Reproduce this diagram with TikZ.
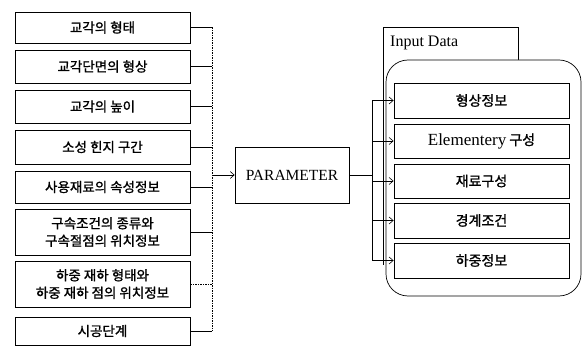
\documentclass[tikz,border=0pt]{standalone}
\usepackage{fontspec}
\setmainfont{Liberation Serif}
\newfontfamily\kr{Noto Sans CJK KR}[FakeBold=1.2]
\usetikzlibrary{arrows.meta}
\begin{document}
\begin{tikzpicture}[x=1pt,y=-1pt,
  lbox/.style={draw, line width=0.7pt, minimum width=175pt, inner sep=0pt, align=center,
    font=\kr\fontsize{13.5}{17.5}\selectfont},
  rbox/.style={draw, line width=0.9pt, minimum width=175pt, minimum height=35pt, inner sep=0pt, align=center,
    font=\kr\fontsize{14}{17}\selectfont},
  conn/.style={line width=0.6pt},
  bus/.style={line width=0.6pt, dash pattern=on 1.5pt off 1pt},
  arr/.style={line width=0.6pt, -{Straight Barb[length=4pt,width=7pt]}}
]
\useasboundingbox (0,0) rectangle (586,347);

% left boxes
\node[lbox, minimum height=31pt] (b1) at (102.5,27.5) {교각의 형태};
\node[lbox, minimum height=33pt] (b2) at (102.5,66.5) {교각단면의 형상};
\node[lbox, minimum height=33pt] (b3) at (102.5,106.5) {교각의 높이};
\node[lbox, minimum height=34pt] (b4) at (102.5,147) {소성 힌지 구간};
\node[lbox, minimum height=32pt] (b5) at (102.5,187) {사용재료의 속성정보};
\node[lbox, minimum height=46pt] (b6) at (102.5,232) {구속조건의 종류와\\구속절점의 위치정보};
\node[lbox, minimum height=46pt] (b7) at (102.5,284) {하중 재하 형태와\\하중 재하 점의 위치정보};
\node[lbox, minimum height=28pt] (b8) at (102.5,331) {시공단계};

\coordinate (lbT) at (212,27.5);
\coordinate (lbB) at (212,331);
\draw[bus] (lbT) -- (lbB);
\foreach \b in {b1,b2,b3,b4,b5,b6,b8}
  \draw[conn] (\b.east) -- (\b.east -| lbT);
\draw[bus] (b7.east) -- (b7.east -| lbT);

% parameter
\node[draw, line width=0.7pt, minimum width=114pt, minimum height=56pt, inner sep=0pt,
  font=\fontsize{15.5}{18}\selectfont] (par) at (292,175) {PARAMETER};
\draw[arr] (lbT |- par.west) -- (par.west);

% input data frame
\draw[line width=0.7pt] (383,265) -- (383,27) -- (518,27) -- (518,62);
\node[anchor=west, inner sep=0pt, font=\fontsize{16}{18}\selectfont] (idl) at (390,43) {Input Data};
\draw[line width=0.7pt, fill=white, rounded corners=22pt] (386,60) rectangle (581,296);

% right boxes
\node[rbox] (r1) at (481.5,100.5) {형상정보};
\node[rbox, minimum height=34pt] (r2) at (481.5,141) {{\rmfamily\fontsize{17}{17}\selectfont Elementery} 구성};
\node[rbox, minimum height=34pt] (r3) at (481.5,181) {재료구성};
\node[rbox] (r4) at (481.5,220.5) {경계조건};
\node[rbox] (r5) at (481.5,260.5) {하중정보};

\coordinate (rbT) at (372,100.5);
\coordinate (rbB) at (372,260.5);
\draw[conn] (par.east) -- (par.east -| rbT);
\draw[conn] (rbT) -- (rbB);
\foreach \r in {r1,r2,r3,r4,r5}
  \draw[arr] (\r.west -| rbT) -- (\r.west);
\end{tikzpicture}
\end{document}
